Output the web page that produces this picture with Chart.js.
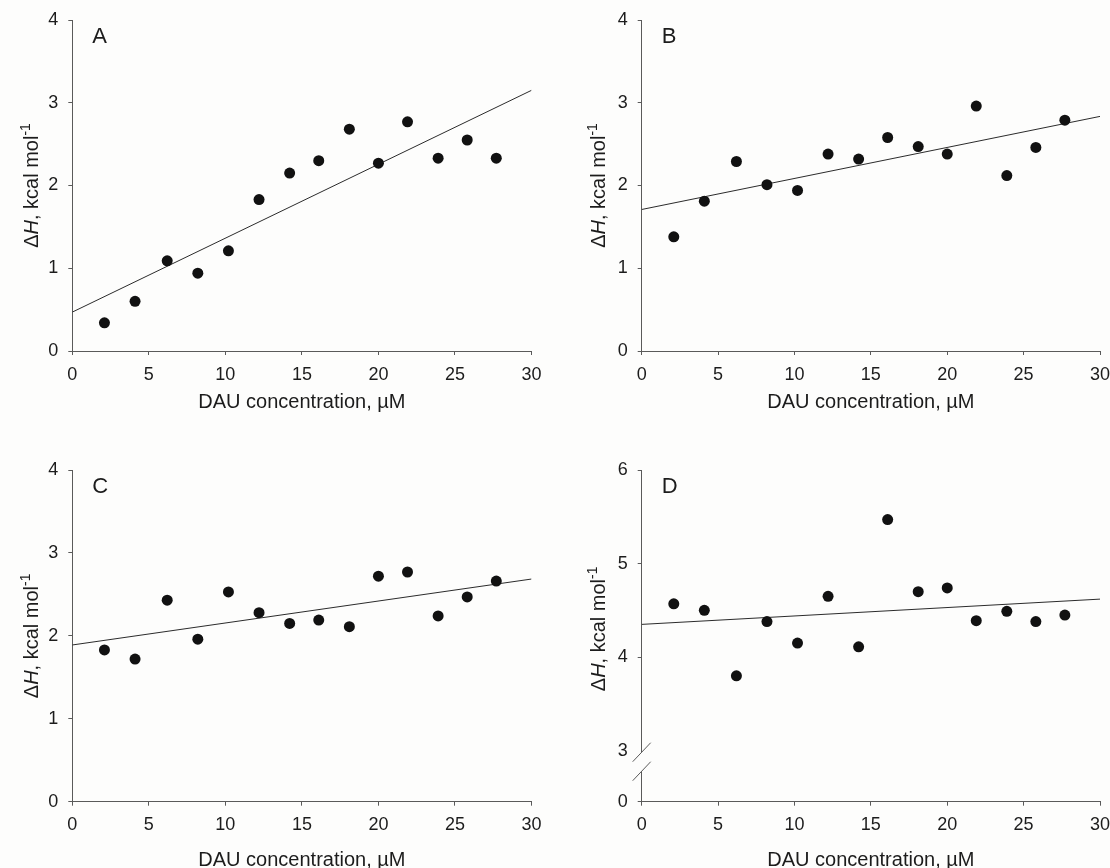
<!DOCTYPE html>
<html lang="es">
<head>
<meta charset="utf-8">
<title>ΔH frente a concentración de DAU</title>
<script src="https://cdn.jsdelivr.net/npm/chart.js@4.4.1/dist/chart.umd.min.js"></script>
<style>
  html, body { margin: 0; padding: 0; width: 1110px; height: 868px; overflow: hidden; background: #fdfdfc; }
  .panel { position: absolute; }
  canvas { display: block; }
</style>
</head>
<body>
<div class="panel" style="left:0;top:0"><canvas id="graficoA" width="555" height="434"></canvas></div>
<div class="panel" style="left:555px;top:0"><canvas id="graficoB" width="555" height="434"></canvas></div>
<div class="panel" style="left:0;top:434px"><canvas id="graficoC" width="555" height="458"></canvas></div>
<div class="panel" style="left:555px;top:434px"><canvas id="graficoD" width="555" height="458"></canvas></div>
<script>
// Datos: concentración de DAU (µM) y ΔH (kcal/mol) para cada panel
const concentracion = [2.1, 4.1, 6.2, 8.2, 10.2, 12.2, 14.2, 16.1, 18.1, 20.0, 21.9, 23.9, 25.8, 27.7];
const dhA = [0.34, 0.60, 1.09, 0.94, 1.21, 1.83, 2.15, 2.30, 2.68, 2.27, 2.77, 2.33, 2.55, 2.33];
const dhB = [1.38, 1.81, 2.29, 2.01, 1.94, 2.38, 2.32, 2.58, 2.47, 2.38, 2.96, 2.12, 2.46, 2.79];
const dhC = [1.83, 1.72, 2.43, 1.96, 2.53, 2.28, 2.15, 2.19, 2.11, 2.72, 2.77, 2.24, 2.47, 2.66];
const dhD = [4.57, 4.50, 3.80, 4.38, 4.15, 4.65, 4.11, 5.47, 4.70, 4.74, 4.39, 4.49, 4.38, 4.45];

// Rectas de regresión (valor en x = 0 y x = 30)
const ajusteX = [0, 30];
const ajusteA = [0.47, 3.15];
const ajusteB = [1.71, 2.835];
const ajusteC = [1.89, 2.685];
const ajusteD = [4.35, 4.62];

// Marcas de los ejes
const ticksX = [0, 5, 10, 15, 20, 25, 30];
const ticksY = [0, 1, 2, 3, 4];
const ticksYD = [0, 3, 4, 5, 6];   // eje D con corte entre 0 y 3
const valorCorteD = 2.455;          // valor interno donde se pinta el "0" del eje D

const FUENTE = '"Liberation Sans", Arial, Helvetica, sans-serif';
const COLOR_EJE = '#5a5a5a';
const COLOR_TEXTO = '#1c1c1c';
const FONDO = '#fdfdfc';

// Título del eje Y con H en cursiva y exponente -1
const tituloY = {
    id: 'tituloY',
    afterDraw(chart, args, opts) {
        const { ctx, chartArea } = chart;
        const partes = [
            { texto: 'Δ', fuente: `20px ${FUENTE}`, sube: 0 },
            { texto: 'H', fuente: `italic 20px ${FUENTE}`, sube: 0 },
            { texto: ', kcal mol', fuente: `20px ${FUENTE}`, sube: 0 },
            { texto: '-1', fuente: `14px ${FUENTE}`, sube: 8 }
        ];
        ctx.save();
        let ancho = 0;
        partes.forEach(p => { ctx.font = p.fuente; p.w = ctx.measureText(p.texto).width; ancho += p.w; });
        ctx.translate(chartArea.left - opts.separacion, (chartArea.top + chartArea.bottom) / 2 + (opts.desplazamiento || 0));
        ctx.rotate(-Math.PI / 2);
        ctx.fillStyle = COLOR_TEXTO;
        ctx.textBaseline = 'alphabetic';
        let x = -ancho / 2;
        partes.forEach(p => {
            ctx.font = p.fuente;
            ctx.fillText(p.texto, x, -p.sube);
            x += p.w;
        });
        ctx.restore();
    }
};

// Letra del panel (A, B, C, D)
const letraPanel = {
    id: 'letraPanel',
    afterDraw(chart, args, opts) {
        const { ctx, chartArea } = chart;
        ctx.save();
        ctx.font = `22px ${FUENTE}`;
        ctx.fillStyle = COLOR_TEXTO;
        ctx.textBaseline = 'alphabetic';
        ctx.fillText(opts.letra, chartArea.left + 20, chartArea.top + 23);
        ctx.restore();
    }
};

// Corte del eje Y (doble barra) en el panel D
const corteEje = {
    id: 'corteEje',
    afterDraw(chart, args, opts) {
        if (!opts.activo) return;
        const { ctx, chartArea } = chart;
        const x = chartArea.left;
        const y1 = chart.scales.y.getPixelForValue(3) + 1.5;
        const y2 = y1 + 19;
        ctx.save();
        ctx.fillStyle = FONDO;
        ctx.fillRect(x - 2, y1, 4, y2 - y1);
        ctx.strokeStyle = COLOR_EJE;
        ctx.lineWidth = 1;
        [y1, y2].forEach(y => {
            ctx.beginPath();
            ctx.moveTo(x - 9, y + 9.5);
            ctx.lineTo(x + 9, y - 9.5);
            ctx.stroke();
        });
        ctx.restore();
    }
};

const crearPanel = (idCanvas, letra, valores, ajuste, cfg) => {
    const ctx = document.getElementById(idCanvas).getContext('2d');
    const alto = ctx.canvas.height;
    const conCorte = !!cfg.corte;
    const marcasY = conCorte ? ticksYD : ticksY;

    new Chart(ctx, {
        type: 'scatter',
        data: {
            datasets: [{
                label: 'ΔH',
                data: concentracion.map((x, i) => ({ x, y: valores[i] })),
                pointRadius: 5.5,
                pointBackgroundColor: '#111111',
                pointBorderWidth: 0,
                showLine: false
            }, {
                label: 'Ajuste lineal',
                data: ajusteX.map((x, i) => ({ x, y: ajuste[i] })),
                showLine: true,
                borderColor: '#2b2b2b',
                borderWidth: 1,
                pointRadius: 0,
                fill: false
            }]
        },
        options: {
            responsive: false,
            animation: false,
            devicePixelRatio: 1,
            layout: { padding: { left: 0, top: cfg.arriba, right: 555 - cfg.derecha, bottom: 0 } },
            plugins: {
                legend: { display: false },
                tooltip: { enabled: false },
                tituloY: { separacion: cfg.sepTitulo, desplazamiento: cfg.despTitulo },
                letraPanel: { letra },
                corteEje: { activo: conCorte }
            },
            scales: {
                x: {
                    type: 'linear',
                    min: 0,
                    max: 30,
                    afterBuildTicks: s => { s.ticks = ticksX.map(v => ({ value: v })); },
                    afterFit: s => { s.height = alto - cfg.abajo; s.paddingLeft = 0; s.paddingRight = 0; },
                    border: { display: true, color: COLOR_EJE, width: 1 },
                    grid: { display: true, drawOnChartArea: false, drawTicks: true, tickLength: 4, tickColor: COLOR_EJE },
                    ticks: { color: COLOR_TEXTO, font: { family: FUENTE, size: 18 }, padding: 9, maxRotation: 0, autoSkip: false },
                    title: {
                        display: true,
                        text: 'DAU concentration, µM',
                        color: COLOR_TEXTO,
                        font: { family: FUENTE, size: 20 },
                        padding: { top: 0, bottom: 20 }
                    }
                },
                y: {
                    type: 'linear',
                    min: conCorte ? valorCorteD : 0,
                    max: conCorte ? 6 : 4,
                    afterBuildTicks: s => {
                        s.ticks = marcasY.map(v => ({ value: (conCorte && v === 0) ? valorCorteD : v }));
                    },
                    afterFit: s => { s.width = cfg.izquierda; s.paddingTop = 0; s.paddingBottom = 0; },
                    border: { display: true, color: COLOR_EJE, width: 1 },
                    grid: {
                        display: true,
                        drawOnChartArea: false,
                        drawTicks: true,
                        tickLength: 4,
                        tickColor: c => (conCorte && c.tick && c.tick.value === 3) ? 'rgba(0,0,0,0)' : COLOR_EJE
                    },
                    ticks: {
                        color: COLOR_TEXTO,
                        font: { family: FUENTE, size: 18 },
                        padding: 10,
                        callback: v => (conCorte && v === valorCorteD) ? '0' : String(v)
                    }
                }
            }
        },
        plugins: [tituloY, letraPanel, corteEje]
    });
};

document.addEventListener('DOMContentLoaded', () => {
    crearPanel('graficoA', 'A', dhA, ajusteA, { izquierda: 72.3, derecha: 531.5, arriba: 20, abajo: 351, sepTitulo: 34 });
    crearPanel('graficoB', 'B', dhB, ajusteB, { izquierda: 86.7, derecha: 545, arriba: 20, abajo: 351, sepTitulo: 37 });
    crearPanel('graficoC', 'C', dhC, ajusteC, { izquierda: 72.3, derecha: 531.5, arriba: 36, abajo: 367.7, sepTitulo: 34 });
    crearPanel('graficoD', 'D', dhD, ajusteD, { izquierda: 86.7, derecha: 545, arriba: 36, abajo: 367.7, sepTitulo: 37, despTitulo: -7, corte: true });
});
</script>
</body>
</html>
